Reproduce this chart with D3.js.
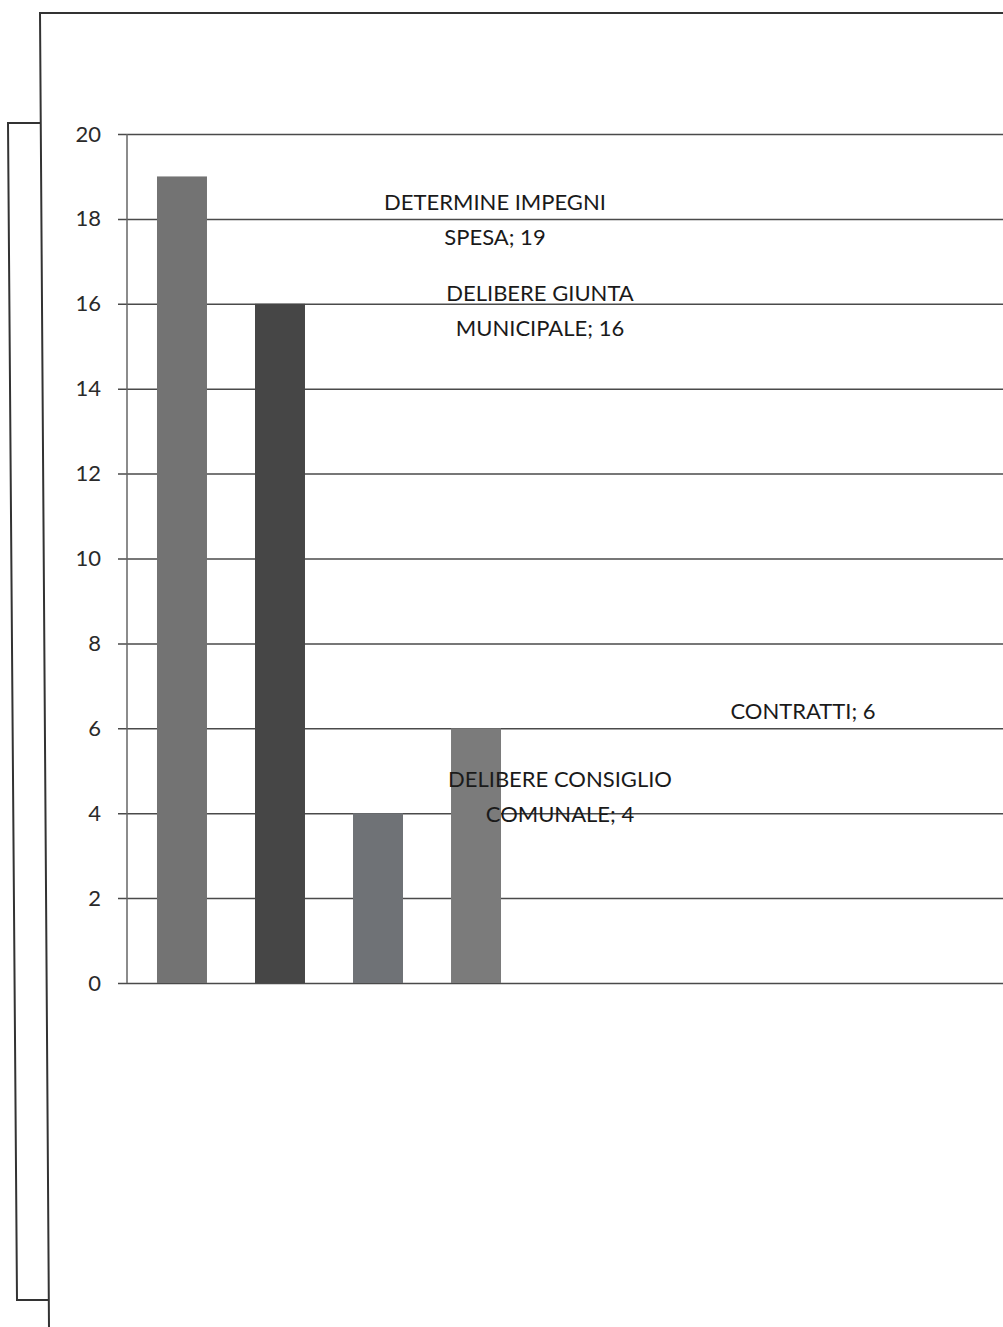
<!DOCTYPE html>
<meta charset="utf-8">
<title>Atti</title>
<style>
    body {
        margin: 0;
        background: #fff;
    }

    svg text {
        font-family: Lato, "Open Sans", sans-serif;
    }
</style>
<body>
<script src="https://cdnjs.cloudflare.com/ajax/libs/d3/7.8.5/d3.min.js"></script>
<script>
    var categories = ["DETERMINE IMPEGNI SPESA", "DELIBERE GIUNTA MUNICIPALE", "DELIBERE CONSIGLIO COMUNALE", "CONTRATTI"];
    var values = [19, 16, 4, 6];
    var labelLines = [["DETERMINE IMPEGNI", "SPESA; 19"], ["DELIBERE GIUNTA", "MUNICIPALE; 16"], ["DELIBERE CONSIGLIO", "COMUNALE; 4"], ["CONTRATTI; 6"]];
    var yTicks = [0, 2, 4, 6, 8, 10, 12, 14, 16, 18, 20];

    var barColors = ["#737373", "#464646", "#6f7276", "#7b7b7b"];
    // where Excel dropped the data labels (x centre, offset from bar top)
    var labelX = [495, 540, 560, 803];
    var labelDy = [33, -4, -27, -10];

    var W = 1003, H = 1327;
    var svg = d3.select("body").append("svg")
        .attr("width", W)
        .attr("height", H);

    // scanned page frame
    svg.append("path")
        .attr("d", "M1003,13 L40,13 L49,1327")
        .attr("fill", "none").attr("stroke", "#333").attr("stroke-width", 2);
    svg.append("path")
        .attr("d", "M40,123 L8,123 L17,1300 L49,1300")
        .attr("fill", "none").attr("stroke", "#333").attr("stroke-width", 2);

    var left = 127, right = W;
    var y = d3.scaleLinear().domain([0, 20]).range([983, 134]);
    var x = d3.scaleBand().domain(categories)
        .range([left, left + 404])
        .paddingInner(0.49)
        .paddingOuter(0.306);

    // gridlines + ticks
    svg.append("g")
        .attr("transform", "translate(" + right + ",0)")
        .call(d3.axisLeft(y).tickValues(yTicks).tickSize(right - 118).tickPadding(17).tickFormat(d3.format("d")))
        .call(function (g) {
            g.select(".domain").remove();
            g.selectAll(".tick line").attr("stroke", "#4a4a4a").attr("stroke-width", 1.5);
            g.selectAll(".tick text").attr("fill", "#2a2a2a").style("font-size", "22px");
        });

    svg.append("line")
        .attr("x1", left).attr("x2", left)
        .attr("y1", y(20)).attr("y2", y(0))
        .attr("stroke", "#666").attr("stroke-width", 1.5);

    svg.selectAll("rect.bar")
        .data(values)
        .enter()
        .append("rect")
        .attr("class", "bar")
        .attr("x", function (d, i) { return x(categories[i]); })
        .attr("y", function (d) { return y(d); })
        .attr("width", x.bandwidth())
        .attr("height", function (d) { return y(0) - y(d); })
        .attr("fill", function (d, i) { return barColors[i]; });

    var labels = svg.selectAll("text.lbl")
        .data(values)
        .enter()
        .append("text")
        .attr("class", "lbl")
        .attr("text-anchor", "middle")
        .attr("fill", "#1a1a1a")
        .style("font-size", "22px")
        .attr("x", function (d, i) { return labelX[i]; })
        .attr("y", function (d, i) { return y(d) + labelDy[i] + 1; });

    labels.selectAll("tspan")
        .data(function (d, i) { return labelLines[i].map(function (t) { return {t: t, i: i}; }); })
        .enter()
        .append("tspan")
        .attr("x", function (d) { return labelX[d.i]; })
        .attr("dy", function (d, j) { return j ? 35 : 0; })
        .text(function (d) { return d.t; });
</script>
